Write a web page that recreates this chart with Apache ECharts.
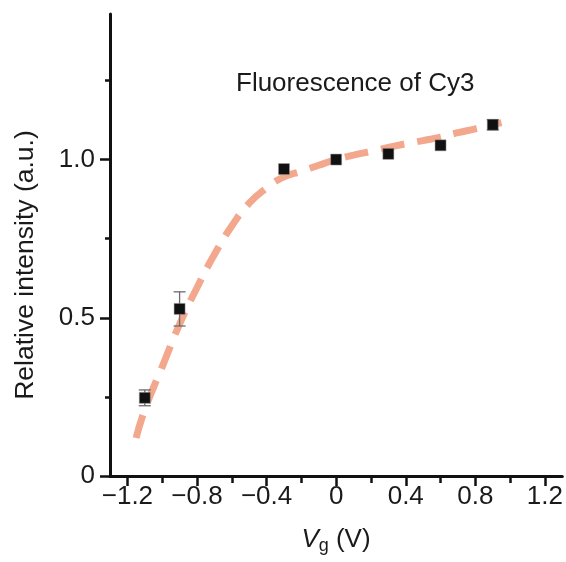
<!DOCTYPE html>
<html>
<head>
<meta charset="utf-8">
<script src="https://cdn.jsdelivr.net/npm/echarts@6/dist/echarts.min.js"></script>
<style>html,body{margin:0;padding:0;background:#fff;}#c{width:566px;height:562px;}</style>
</head>
<body>
<div id="c"></div>
<script>
// Measured points (Vg in V, relative intensity)
const vg = [-1.1, -0.9, -0.3, 0, 0.3, 0.6, 0.9];
const intensity = [0.247, 0.528, 0.970, 1.0, 1.018, 1.045, 1.110];
const errors = [0.025, 0.054, 0, 0, 0, 0, 0.016];
// Dashed guide curve
const fitX = [-1.15, -1.1, -1.0, -0.9, -0.8, -0.7, -0.6, -0.5, -0.4, -0.3, -0.2, -0.1, 0, 0.1, 0.2, 0.3, 0.4, 0.5, 0.6, 0.7, 0.8, 0.95];
const fitY = [0.12, 0.21, 0.345, 0.48, 0.595, 0.70, 0.79, 0.862, 0.91, 0.945, 0.963, 0.982, 1.0, 1.014, 1.026, 1.038, 1.05, 1.06, 1.071, 1.085, 1.097, 1.117];
// Tick values
const xMajor = [-1.2, -0.8, -0.4, 0, 0.4, 0.8, 1.2];
const xMinor = [-1.0, -0.6, -0.2, 0.2, 0.6, 1.0];
const yMajor = [0, 0.5, 1.0];
const yMinor = [0.25, 0.75, 1.25];

const FONT = 'Liberation Sans';
const TXT = '#1a1a1a';
const chart = echarts.init(document.getElementById('c'), null, {renderer: 'canvas'});

const grid = {left: 110, top: 14, right: 3, bottom: 86};
const fmtX = v => {
  if (Math.abs(v) < 1e-9) return '0';
  return (v < 0 ? '\u2212' : '') + Math.abs(v).toFixed(1);
};
const fmtY = v => (Math.abs(v) < 1e-9 ? '0' : v.toFixed(1));

chart.setOption({
  animation: false,
  backgroundColor: '#fff',
  grid: grid,
  xAxis: [
    {
      type: 'value', min: -1.3, max: 1.3,
      axisLine: {show: true, onZero: false, lineStyle: {color: '#111', width: 3}},
      axisTick: {show: true, length: 10, customValues: xMajor, lineStyle: {color: '#111', width: 2.5}},
      axisLabel: {customValues: xMajor, formatter: fmtX, margin: 8, fontFamily: FONT, fontSize: 26, color: TXT},
      splitLine: {show: false}
    },
    {
      type: 'value', min: -1.3, max: 1.3, position: 'bottom',
      axisLine: {show: false, onZero: false},
      axisTick: {show: true, length: 7, customValues: xMinor, lineStyle: {color: '#111', width: 2.5}},
      axisLabel: {show: false},
      splitLine: {show: false}
    }
  ],
  yAxis: [
    {
      type: 'value', min: 0, max: 1.46,
      axisLine: {show: true, onZero: false, lineStyle: {color: '#111', width: 3}},
      axisTick: {show: true, length: 10, customValues: yMajor, lineStyle: {color: '#111', width: 2.5}},
      axisLabel: {customValues: yMajor, formatter: fmtY, margin: 15, fontFamily: FONT, fontSize: 26, color: TXT},
      splitLine: {show: false}
    },
    {
      type: 'value', min: 0, max: 1.46, position: 'left',
      axisLine: {show: false, onZero: false},
      axisTick: {show: true, length: 5, customValues: yMinor, lineStyle: {color: '#111', width: 2.5}},
      axisLabel: {show: false},
      splitLine: {show: false}
    }
  ],
  graphic: [
    {
      type: 'text', x: 236, y: 84,
      style: {text: 'Fluorescence of Cy3', fontFamily: FONT, fontSize: 26, fill: TXT, align: 'left', verticalAlign: 'middle'}
    },
    {
      type: 'text', x: 26, y: 265, rotation: Math.PI / 2,
      style: {text: 'Relative intensity (a.u.)', fontFamily: FONT, fontSize: 26.5, fill: TXT, align: 'center', verticalAlign: 'middle'}
    },
    {
      type: 'text', x: 336, y: 540,
      style: {
        text: '{i|V}{s|g} (V)', align: 'center', verticalAlign: 'middle', fontFamily: FONT, fontSize: 26, fill: TXT,
        rich: {
          i: {fontStyle: 'italic', fontFamily: FONT, fontSize: 26, fill: TXT},
          s: {fontFamily: FONT, fontSize: 18, fill: TXT, padding: [13, 0, 0, 0]}
        }
      }
    }
  ],
  series: [
    {
      type: 'line', xAxisIndex: 0, yAxisIndex: 0,
      data: fitX.map((x, i) => [x, fitY[i]]),
      smooth: true, showSymbol: false, symbol: 'none',
      lineStyle: {color: '#f3a88e', width: 7, type: [24, 13], cap: 'butt'},
      z: 2
    },
    {
      type: 'custom', xAxisIndex: 0, yAxisIndex: 0,
      data: vg.map((x, i) => [x, intensity[i], errors[i]]),
      renderItem: function (params, api) {
        const x = api.value(0), y = api.value(1), e = api.value(2);
        if (!e) return null;
        const top = api.coord([x, y + e]);
        const bot = api.coord([x, y - e]);
        const hw = 6;
        const st = {stroke: '#6b6b6b', lineWidth: 1.3};
        return {
          type: 'group',
          children: [
            {type: 'line', shape: {x1: top[0], y1: top[1], x2: bot[0], y2: bot[1]}, style: st},
            {type: 'line', shape: {x1: top[0] - hw, y1: top[1], x2: top[0] + hw, y2: top[1]}, style: st},
            {type: 'line', shape: {x1: bot[0] - hw, y1: bot[1], x2: bot[0] + hw, y2: bot[1]}, style: st}
          ]
        };
      },
      z: 3
    },
    {
      type: 'scatter', xAxisIndex: 0, yAxisIndex: 0,
      data: vg.map((x, i) => [x, intensity[i]]),
      symbol: 'rect', symbolSize: 11,
      itemStyle: {color: '#111', borderColor: '#999', borderWidth: 0.5, opacity: 1},
      z: 4
    }
  ]
});
</script>
</body>
</html>
